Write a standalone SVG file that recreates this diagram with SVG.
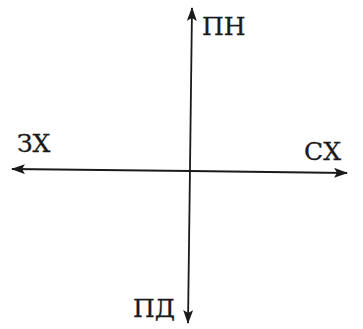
<svg xmlns="http://www.w3.org/2000/svg" width="363" height="329" viewBox="0 0 363 329">
<style>
.ax{stroke:#1a1a1a;stroke-width:1.8;fill:none}
.lb{font-family:"DejaVu Serif","Liberation Serif",serif;font-size:25px;fill:#1a1a1a;stroke:#1a1a1a;stroke-width:0.3}
</style>
<defs>
<marker id="ah" markerWidth="14" markerHeight="10" refX="13" refY="5" orient="auto" markerUnits="userSpaceOnUse">
<path d="M0,0 L14,5 L0,10 L3,5 Z" fill="#1a1a1a"/>
</marker>
</defs>
<rect width="363" height="329" fill="#ffffff"/>
<g id="connectors">
<line class="ax" x1="190" y1="168" x2="192" y2="8" marker-end="url(#ah)"/>
<line class="ax" x1="190" y1="168" x2="188" y2="323" marker-end="url(#ah)"/>
<line class="ax" x1="190" y1="171" x2="12" y2="169" marker-end="url(#ah)"/>
<line class="ax" x1="190" y1="171" x2="347" y2="173" marker-end="url(#ah)"/>
</g>
<g id="north"><text class="lb" x="202" y="35">ПН</text></g>
<g id="west"><text class="lb" x="17" y="152">ЗХ</text></g>
<g id="east"><text class="lb" x="304" y="160">СХ</text></g>
<g id="south"><text class="lb" x="133" y="317">ПД</text></g>
</svg>
